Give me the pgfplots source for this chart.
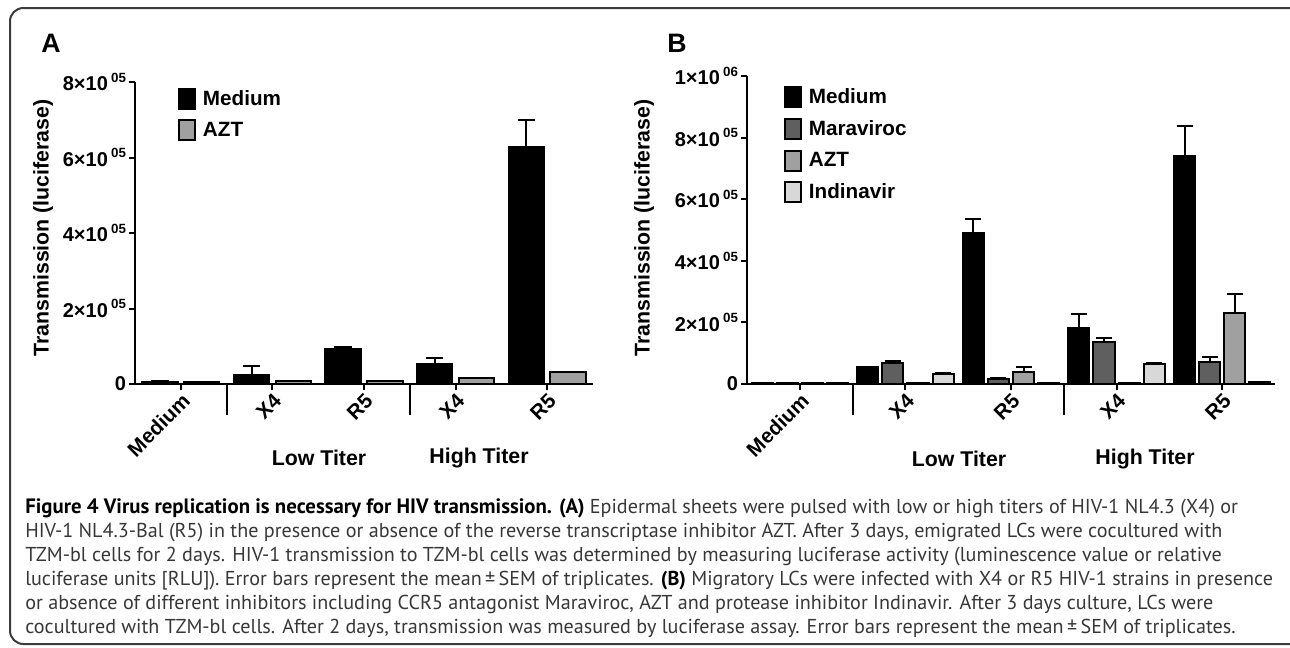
\documentclass[border=0pt]{standalone}
\usepackage{fontspec}
\setmainfont{Liberation Sans}
\newfontfamily\capfont{PT Sans}
\usepackage{pgfplots}
\usepackage{pgfplotstable}
\pgfplotsset{compat=1.18}
\definecolor{marc}{RGB}{95,95,95}
\definecolor{aztc}{RGB}{160,160,160}
\definecolor{indc}{RGB}{216,216,216}
\definecolor{capgray}{RGB}{55,55,55}
\definecolor{framec}{RGB}{60,60,60}

% Panel A: x, Medium, err, AZT, err
\pgfplotstableread{
x m em a ea
0 5000 3000 5000 1000
1 24000 24000 7000 1000
2 92000 6000 8000 1000
3 53000 16000 16000 1000
4 628000 71000 32000 1000
}\dataA
% Panel B: x, Medium, Maraviroc, AZT, Indinavir with errors
\pgfplotstableread{
x m em r er a ea i ei
0 4000 0 4000 0 4000 0 4000 0
1 56000 0 68000 7000 3000 0 32000 3000
2 490000 46000 15000 3000 39000 16000 3000 0
3 182000 45000 136000 13000 4000 0 65000 2000
4 740000 98000 71000 17000 231000 61000 5000 0
}\dataB

\newcommand\sx[1]{\,\raisebox{0.42em}{\fontsize{10}{10}\selectfont 0#1}}

\pgfplotsset{
  panel/.style={
    scale only axis, anchor=south west,
    ymin=0, xmin=-0.5, xmax=4.5,
    axis x line*=bottom, axis y line*=left,
    axis line style={line width=1.5pt,-},
    tick align=outside, major tick length=4.5pt,
    tick style={line width=1.5pt, black},
    xtick={0,1,2,3,4}, xticklabels={Medium,X4,R5,X4,R5},
    x tick label style={rotate=45, anchor=north east, font=\bfseries\fontsize{15.5}{15.5}\selectfont, inner sep=1pt},
    y tick label style={font=\bfseries\fontsize{15}{15}\selectfont, inner sep=2pt},
    extra x ticks={0.5,2.5}, extra x tick labels={},
    extra x tick style={major tick length=23.25pt},
    scaled y ticks=false, clip=false,
    ybar,
    legend cell align=left,
    legend image code/.code={\draw[##1,line width=1.5pt] (0pt,-7.5pt) rectangle (12pt,7.5pt);},
  },
  ebar/.style={error bars/.cd, y dir=plus, y explicit,
    error bar style={line width=1.5pt, black},
    error mark options={rotate=90, line width=1.5pt, black, mark size=#1}},
}

\begin{document}
\begin{tikzpicture}
\begin{scope}[x=0.75pt,y=-0.75pt]
  \path[use as bounding box] (0,0) rectangle (1290,647);
  % frame
  \draw[framec, line width=1.5pt, rounded corners=10pt] (1295,8) -- (10,8) -- (10,644) -- (1295,644);
  % panel letters
  \node[font=\bfseries\fontsize{20}{20}\selectfont] at (51,43) {A};
  \node[font=\bfseries\fontsize{20}{20}\selectfont] at (677,43) {B};
  % y labels
  \node[rotate=90, font=\bfseries\fontsize{16}{16}\selectfont] at (43,228) {Transmission (luciferase)};
  \node[rotate=90, font=\bfseries\fontsize{16}{16}\selectfont] at (644,228) {Transmission (luciferase)};
  % group labels
  \node[font=\bfseries\fontsize{16}{16}\selectfont] at (319,458) {Low Titer};
  \node[font=\bfseries\fontsize{16}{16}\selectfont] at (479,458) {High Titer};
  \node[font=\bfseries\fontsize{16}{16}\selectfont] at (959,459) {Low Titer};
  \node[font=\bfseries\fontsize{16}{16}\selectfont] at (1145,459) {High Titer};
  % caption
  \begin{scope}[every node/.style={anchor=base west, inner sep=0pt, font=\capfont\fontsize{15.1}{15.1}\selectfont, text=capgray}]
  \node at (25,513) {\textcolor{black}{\bfseries\fontsize{15.6}{15.6}\selectfont Figure 4 Virus replication is necessary for HIV transmission. (A)} Epidermal sheets were pulsed with low or high titers of HIV-1 NL4.3 (X4) or};
  \node at (25,537) {HIV-1 NL4.3-Bal (R5) in the presence or absence of the reverse transcriptase inhibitor AZT. After 3 days, emigrated LCs were cocultured with};
  \node at (25,561) {TZM-bl cells for 2 days. HIV-1 transmission to TZM-bl cells was determined by measuring luciferase activity (luminescence value or relative};
  \node at (25,585) {luciferase units [RLU]). Error bars represent the mean\,±\,SEM of triplicates. \textcolor{black}{\bfseries (B)} Migratory LCs were infected with X4 or R5 HIV-1 strains in presence};
  \node at (25,609) {or absence of different inhibitors including CCR5 antagonist Maraviroc, AZT and protease inhibitor Indinavir. After 3 days culture, LCs were};
  \node at (25,633) {cocultured with TZM-bl cells. After 2 days, transmission was measured by luciferase assay. Error bars represent the mean\,±\,SEM of triplicates.};
  \end{scope}
\end{scope}

% Panel A
\begin{axis}[panel,
  at={(101.25pt,-288pt)}, width=343.5pt, height=226.5pt,
  ymax=800000,
  ytick={0,200000,400000,600000,800000},
  yticklabels={0,2×10\sx5,4×10\sx5,6×10\sx5,8×10\sx5},
  bar width=0.385,
  legend style={at={(axis description cs:0.094,0.983)}, anchor=north west, draw=none, fill=none,
    inner sep=0pt, row sep=7pt, column sep=3pt, font=\bfseries\fontsize{15.5}{15.5}\selectfont},
]
\addplot[fill=black, draw=black, line width=1.5pt, bar shift=-0.228, ebar=6.5pt] table[x=x,y=m,y error=em]{\dataA};
\addplot[fill=aztc, draw=black, line width=1.5pt, bar shift=0.228, ebar=6.5pt] table[x=x,y=a,y error=ea]{\dataA};
\legend{Medium,AZT}
\end{axis}

% Panel B
\begin{axis}[panel,
  at={(560.25pt,-288pt)}, width=396pt, height=231pt,
  ymax=1000000,
  ytick={0,200000,400000,600000,800000,1000000},
  yticklabels={0,2×10\sx5,4×10\sx5,6×10\sx5,8×10\sx5,1×10\sx6},
  bar width=0.2,
  legend style={at={(axis description cs:0.070,0.9675)}, anchor=north west, draw=none, fill=none,
    inner sep=0pt, row sep=7pt, column sep=3pt, font=\bfseries\fontsize{15.5}{15.5}\selectfont},
]
\addplot[fill=black, draw=black, line width=1.5pt, bar shift=-0.357, ebar=6pt] table[x=x,y=m,y error=em]{\dataB};
\addplot[fill=marc, draw=black, line width=1.5pt, bar shift=-0.119, ebar=6pt] table[x=x,y=r,y error=er]{\dataB};
\addplot[fill=aztc, draw=black, line width=1.5pt, bar shift=0.119, ebar=6pt] table[x=x,y=a,y error=ea]{\dataB};
\addplot[fill=indc, draw=black, line width=1.5pt, bar shift=0.357, ebar=6pt] table[x=x,y=i,y error=ei]{\dataB};
\legend{Medium,Maraviroc,AZT,Indinavir}
\end{axis}
\end{tikzpicture}
\end{document}
